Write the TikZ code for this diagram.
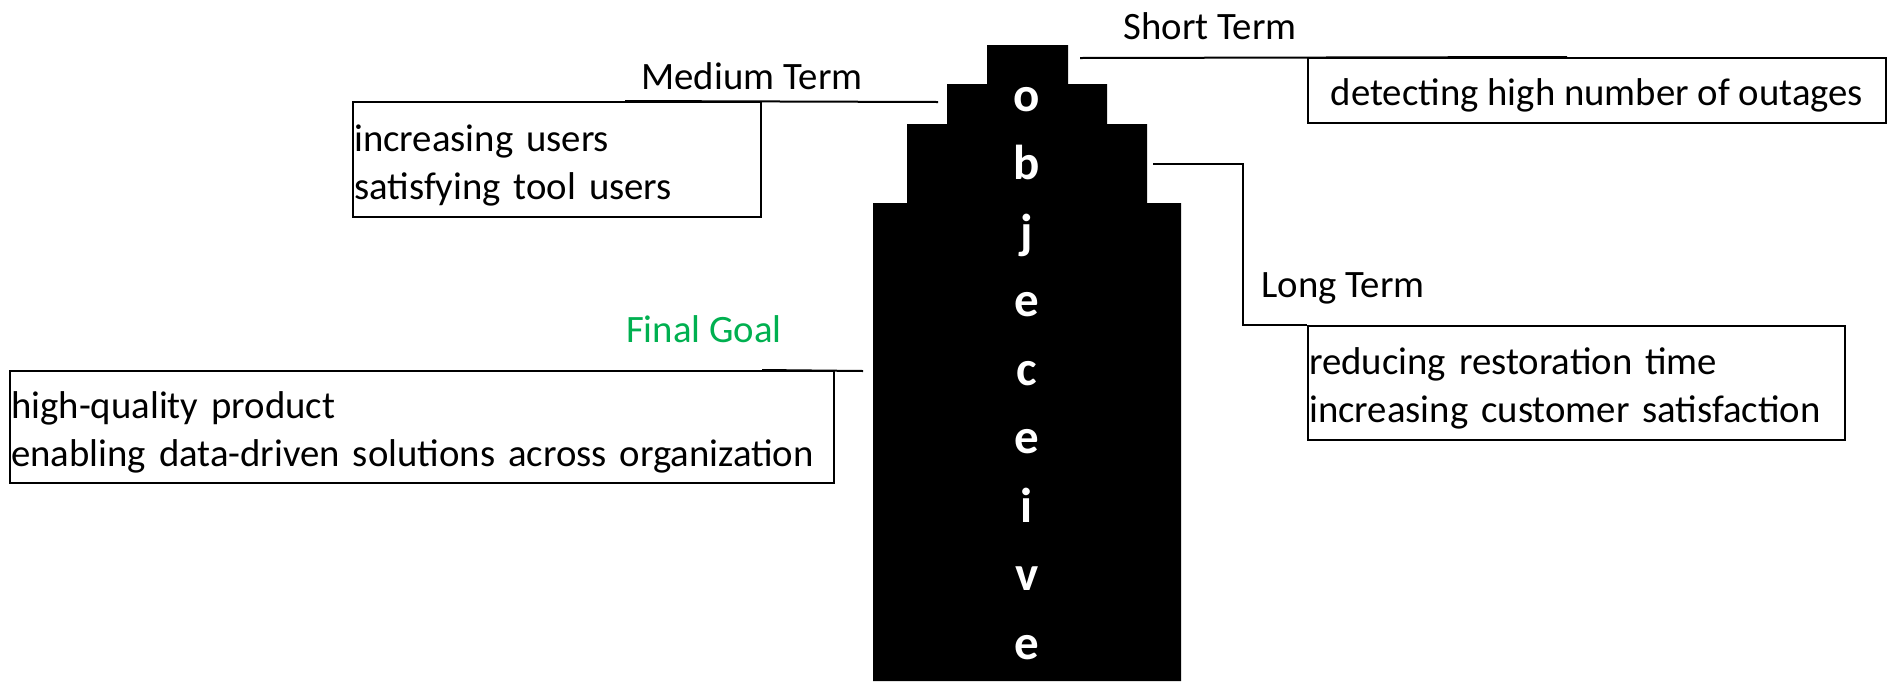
\documentclass[tikz,border=0pt]{standalone}
\usepackage{fontspec}
\setmainfont{Carlito}
\definecolor{goalgreen}{HTML}{00B050}
\hyphenpenalty=10000
\newcommand{\myTopFix}{\rule{0pt}{15.4pt}}
\begin{document}
\begin{tikzpicture}[x=0.4pt,y=-0.4pt,
  conn/.style={line width=0.8pt},
  tbox/.style={draw, line width=0.8pt, align=left, inner xsep=0.5pt, inner ysep=0pt, font=\fontsize{15.5}{19.2}\selectfont},
  lbl/.style={font=\fontsize{15.5}{19.2}\selectfont, inner sep=0pt},
  letter/.style={text=white, font=\bfseries\fontsize{19.6}{23}\selectfont, anchor=base, inner sep=0pt}]
\useasboundingbox (0,0) rectangle (1888,681);
% stepped tower
\fill[black] (873,681) -- (873,203) -- (907,203) -- (907,124) -- (947,124) -- (947,84) -- (987,84) -- (987,45)
  -- (1068,45) -- (1068,84) -- (1107,84) -- (1107,124) -- (1147,124) -- (1147,203) -- (1181,203) -- (1181,681) -- cycle;
\foreach \ch [count=\i from 0] in {o,b,j,e,c,e,i,v,e}
  \node[letter] (L\i) at ({1027},{111+68.5*\i}) {\ch};
% boxes
\node[tbox, align=center, minimum width=231.2pt, minimum height=26pt, text height=16pt, text depth=4pt] (stbox) at (1597,90.5) {detecting high number of outages};
\node[tbox, minimum width=163.2pt, minimum height=46pt, text width=162.2pt] (mdbox) at (557,159.5) {\myTopFix increasing users\\satisfying tool users};
\node[tbox, minimum width=214.8pt, minimum height=45.6pt, text width=213.8pt] (ltbox) at (1576.5,383) {\myTopFix reducing restoration time\\increasing customer satisfaction};
\node[tbox, minimum width=329.6pt, minimum height=44.8pt, text width=328.6pt] (fgbox) at (422,427) {\myTopFix high-quality product\\enabling data-driven solutions across organization};
% labels
\node[lbl] (stlbl) at (1210,26.5) {Short Term};
\node[lbl] (mdlbl) at (752,76) {Medium Term};
\node[lbl] (ltlbl) at (1343,288) {Long Term};
\node[lbl, text=goalgreen] (fglbl) at (704,329) {Final Goal};
% connectors
\coordinate (st0) at (1080,58);
\coordinate (md0) at (938,102);
\coordinate (lt0) at (1153,164);
\coordinate (fg0) at (863,371);
\draw[conn] (st0) -- ([xshift=104pt]stbox.north west);
\draw[conn] (md0) -- ([xshift=-54.8pt]mdbox.north east);
\draw[conn] (lt0) -| ([xshift=-25.6pt]ltbox.north west) -- (ltbox.north west);
\draw[conn] (fg0) -- ([xshift=-29.2pt]fgbox.north east);
\end{tikzpicture}
\end{document}
